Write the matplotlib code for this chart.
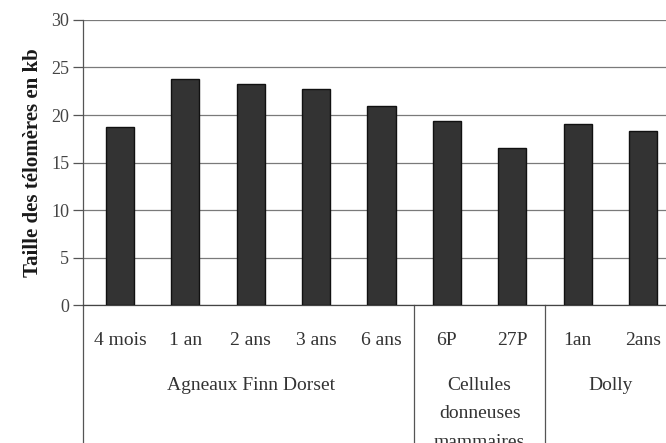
import matplotlib
matplotlib.use("Agg")
import matplotlib.pyplot as plt
from matplotlib.transforms import blended_transform_factory

# telomere length (kb)
categories = ["4 mois", "1 an", "2 ans", "3 ans", "6 ans", "6P", "27P", "1an", "2ans"]
values = [18.7, 23.8, 23.3, 22.7, 20.9, 19.4, 16.5, 19.1, 18.3]
groups = ["Agneaux Finn Dorset", "Cellules\ndonneuses\nmammaires", "Dolly"]
group_spans = [(0, 4), (5, 6), (7, 8)]
yticks = [0, 5, 10, 15, 20, 25, 30]

INK = "#1a1a1a"
BAR = "#333333"
GRID = "#7a7a7a"
SERIF = ["Liberation Serif", "DejaVu Serif"]

plt.rcParams.update({"font.family": SERIF, "text.color": INK,
                     "axes.edgecolor": "#555555", "xtick.color": "#555555",
                     "ytick.color": "#555555"})

fig = plt.figure(figsize=(6.66, 4.43), dpi=100, facecolor="white")
ax = fig.add_axes([0.125, 0.311, 0.875, 0.644])

x = list(range(len(categories)))
ax.bar(x, values, width=0.43, color=BAR, edgecolor="#111111", lw=1, zorder=3)

ax.set_ylim(0, 30)
ax.set_xlim(-0.56, 8.35)
ax.set_yticks(yticks)
ax.set_yticklabels([str(t) for t in yticks], fontsize=13, color="#444444")
ax.tick_params(axis="y", length=7, width=0.9, pad=3)
ax.set_xticks([])
ax.grid(axis="y", color=GRID, lw=0.9, zorder=0)
ax.set_axisbelow(True)
for s in ("top", "right"):
    ax.spines[s].set_visible(False)
ax.spines["left"].set_linewidth(0.9)
ax.spines["bottom"].set_linewidth(0.9)
ax.spines["bottom"].set_color("#444444")

ax.set_ylabel("Taille des télomères en kb", fontsize=15, fontweight="bold",
              labelpad=6, color=INK)

# category table below the axis
tr = blended_transform_factory(ax.transData, ax.transAxes)
bottom = -0.5
ax.plot([0, 0], [0, bottom], transform=ax.transAxes, color="#555555", lw=0.9, clip_on=False)
for a, b in group_spans[1:]:
    ax.plot([a - 0.5, a - 0.5], [0, bottom], transform=tr, color="#555555", lw=0.9, clip_on=False)

for xi, lab in zip(x, categories):
    ax.text(xi, -0.125, lab, transform=tr, ha="center", va="center", fontsize=14, color="#333333")

for (a, b), g in zip(group_spans, groups):
    ax.text((a + b) / 2, -0.253, g, transform=tr, ha="center", va="top", fontsize=14,
            color="#333333", linespacing=1.85)

fig.savefig("out.png", dpi=100, facecolor="white")
